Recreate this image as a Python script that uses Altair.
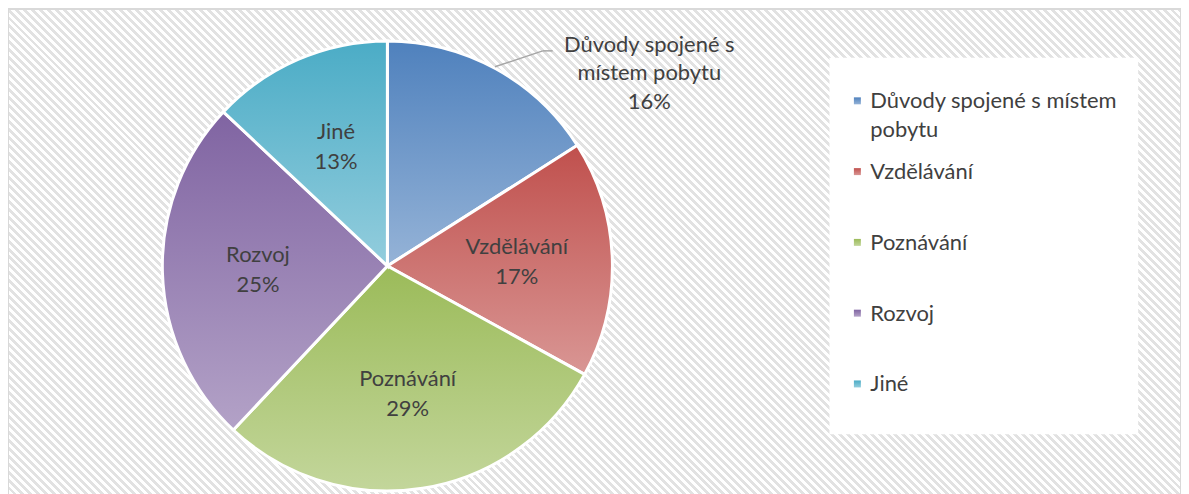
import altair as alt
import pandas as pd

# ---- data ----
categories = ["Důvody spojené s místem pobytu", "Vzdělávání", "Poznávání", "Rozvoj", "Jiné"]
values = [16, 17, 29, 25, 13]
legend_labels = ["Důvody spojené s místem\npobytu", "Vzdělávání", "Poznávání", "Rozvoj", "Jiné"]
callout_lines = ["Důvody spojené s", "místem pobytu"]
top_colors = ["#4f81bd", "#c0504d", "#9bbb59", "#8064a2", "#4bacc6"]
bottom_colors = ["#95b3d7", "#d99694", "#c3d69b", "#b3a2c7", "#93cddd"]

df = pd.DataFrame({
    "cat": categories,
    "value": values,
    "idx": list(range(len(categories))),
    "legend": legend_labels,
})

# ---- layout / style ----
W, H = 1178, 490
CX, CY, R = 381, 258, 226
FONT = "Lato"
TXT = "#404040"
FS = 22


def vgrad(top, bottom):
    return {"gradient": "linear", "x1": 0, "y1": 0, "x2": 0, "y2": 1,
            "stops": [{"offset": 0, "color": top}, {"offset": 1, "color": bottom}]}


grads = [vgrad(t, b) for t, b in zip(top_colors, bottom_colors)]
fill_cond = alt.FillValue(
    value=grads[-1],
    condition=[{"test": f"datum.idx === {i}", "value": grads[i]} for i in range(len(grads) - 1)],
)

# hatch background as a striped linear gradient
P = 8.0
S = W + H
c = S / (W * W + H * H)
stops = []
k = 0
while k * P < S:
    t0 = k * P / S
    tm = min((k + 0.5) * P / S, 1.0)
    t1 = min((k + 1) * P / S, 1.0)
    stops += [
        {"offset": t0, "color": "#e2e2e2"},
        {"offset": tm, "color": "#e2e2e2"},
        {"offset": tm, "color": "#ffffff"},
        {"offset": t1, "color": "#ffffff"},
    ]
    k += 1
hatch = {"gradient": "linear", "x1": 0, "y1": 1, "x2": c * W, "y2": 1 - c * H, "stops": stops}

base = alt.Chart(df)
one = base.transform_filter("datum.idx === 0")

background = one.mark_rect(fill=hatch).encode(
    x=alt.value(0), x2=alt.value(W), y=alt.value(0), y2=alt.value(H)
)

border = one.mark_rect(fillOpacity=0, stroke="#d9d9d9", strokeWidth=2).encode(
    x=alt.value(0), x2=alt.value(W), y=alt.value(0), y2=alt.value(H)
)

theta = alt.Theta("value:Q", stack=True)
order = alt.Order("idx:Q", sort="ascending")

pie = base.mark_arc(outerRadius=R, stroke="white", strokeWidth=3).encode(
    theta=theta, order=order, fill=fill_cond,
    x=alt.value(CX), y=alt.value(CY),
)

inside_labels = base.transform_calculate(
    lab="datum.idx === 0 ? '' : datum.cat + '\\n' + datum.value + '%'"
).mark_text(
    radius=130, font=FONT, fontSize=FS, color=TXT, lineBreak="\n", lineHeight=30,
    align="center", baseline="middle", dy=-15,
).encode(theta=theta, order=order, text="lab:N", x=alt.value(CX), y=alt.value(CY))

callout = one.transform_calculate(
    lab=f"'{callout_lines[0]}\\n{callout_lines[1]}\\n' + datum.value + '%'"
).mark_text(
    font=FONT, fontSize=FS, color=TXT, lineBreak="\n", lineHeight=28.5,
    align="center", baseline="middle",
).encode(text="lab:N", x=alt.value(644), y=alt.value(36))

lead1 = one.mark_rule(color="#a6a6a6", strokeWidth=1.5).encode(
    x=alt.value(489), y=alt.value(58), x2=alt.value(537), y2=alt.value(42)
)
lead2 = one.mark_rule(color="#a6a6a6", strokeWidth=1.5).encode(
    x=alt.value(537), y=alt.value(42), x2=alt.value(547), y2=alt.value(42)
)

legend_box = one.mark_rect(fill="white").encode(
    x=alt.value(825), x2=alt.value(1135), y=alt.value(49), y2=alt.value(427)
)

ly = alt.Y("cat:N", sort=categories,
           scale=alt.Scale(type="point", domain=categories, range=[99.7, 384.0], padding=0),
           axis=None)

legend_sym = base.mark_square(size=49, opacity=1, filled=True, yOffset=-7.5).encode(
    y=ly, x=alt.value(853), fill=fill_cond
)
legend_txt = base.mark_text(
    font=FONT, fontSize=FS, color=TXT, align="left", baseline="alphabetic",
    lineBreak="\n", lineHeight=28.5,
).encode(y=ly, x=alt.value(866), text="legend:N")

chart = alt.layer(
    background, border, pie, inside_labels, callout, lead1, lead2,
    legend_box, legend_sym, legend_txt,
).properties(width=W, height=H, padding=0, autosize="none").configure_view(strokeOpacity=0)

chart.save("out.html", embed_options={"renderer": "svg", "actions": False})
